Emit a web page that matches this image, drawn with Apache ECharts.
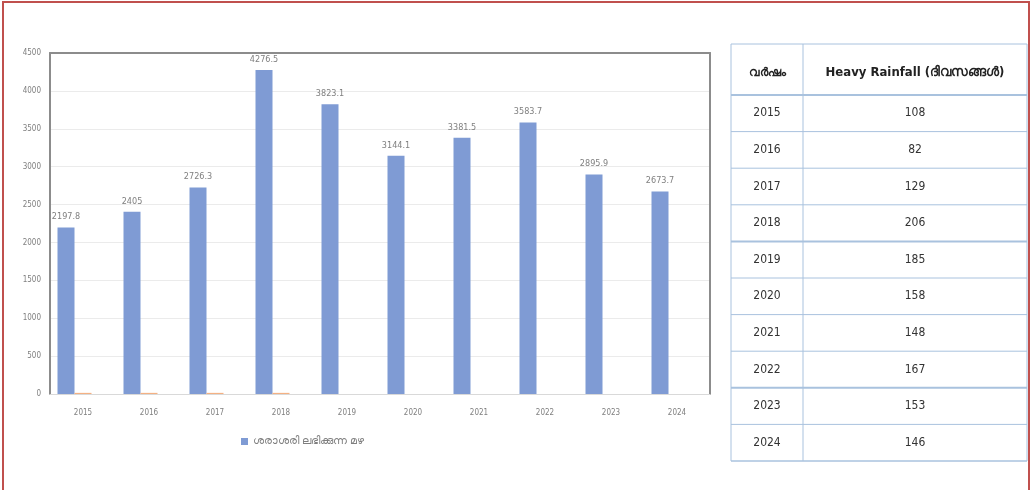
<!DOCTYPE html>
<html>
<head>
<meta charset="utf-8">
<script src="https://cdn.jsdelivr.net/npm/echarts@6/dist/echarts.min.js"></script>
<style>
html,body{margin:0;padding:0;background:#fff;}
#c{width:1032px;height:490px;}
</style>
</head>
<body>
<div id="c"></div>
<script>
// ---- data ----
const categories = ['2015','2016','2017','2018','2019','2020','2021','2022','2023','2024'];
const rainfall = [2197.8, 2405, 2726.3, 4276.5, 3823.1, 3144.1, 3381.5, 3583.7, 2895.9, 2673.7];
const minorSeries = [15, 15, 15, 15, 0, 0, 0, 0, 0, 0];
const yTicks = [0, 500, 1000, 1500, 2000, 2500, 3000, 3500, 4000, 4500];
const legendName = 'ശരാശരി ലഭിക്കുന്ന മഴ';
const tableHeaderYear = 'വർഷം';
const tableHeaderValue = 'Heavy Rainfall (ദിവസങ്ങൾ)';
const tableYears = ['2015','2016','2017','2018','2019','2020','2021','2022','2023','2024'];
const tableDays = [108, 82, 129, 206, 185, 158, 148, 167, 153, 146];

const chart = echarts.init(document.getElementById('c'), null, {renderer:'canvas'});
const narrow = "'Liberation Sans Narrow','DejaVu Sans Condensed',sans-serif";
const lineCol = '#a9c2de';
const T = {left:731, top:44, right:1027, bottom:461, headBottom:95, colSplit:803};

const option = {
  backgroundColor:'#fff',
  animation:false,
  legend:{
    data:[legendName], bottom:38, left:236,
    itemWidth:7, itemHeight:7, icon:'rect', itemGap:4,
    textStyle:{fontSize:11, color:'#7f7f7f', fontFamily:narrow}
  },
  grid:[
    {left:50, top:53, right:322, bottom:96},
    {left:T.left, top:T.headBottom, width:T.right-T.left, height:T.bottom-T.headBottom}
  ],
  xAxis:[
    {type:'category', gridIndex:0, data:categories,
     axisLine:{onZero:false, lineStyle:{color:'#d9d9d9', width:1}}, axisTick:{show:false},
     axisLabel:{fontSize:8, color:'#7f7f7f', margin:15, fontFamily:narrow}},
    {type:'category', gridIndex:0, data:categories, position:'top',
     axisLine:{onZero:false, lineStyle:{color:'#8c8c8c', width:2}}, axisTick:{show:false}, axisLabel:{show:false}},
    {type:'value', gridIndex:1, min:0, max:1, show:false}
  ],
  yAxis:[
    {type:'value', gridIndex:0, min:yTicks[0], max:yTicks[yTicks.length-1], interval:500,
     axisLine:{show:true, lineStyle:{color:'#8c8c8c', width:2}}, axisTick:{show:false},
     splitLine:{lineStyle:{color:'#ebebeb'}},
     axisLabel:{fontSize:8, color:'#7f7f7f', margin:9, fontFamily:narrow, formatter:(v)=>String(v)}},
    {type:'value', gridIndex:0, min:yTicks[0], max:yTicks[yTicks.length-1], interval:500, position:'right',
     axisLine:{show:true, lineStyle:{color:'#8c8c8c', width:2}}, axisTick:{show:false},
     splitLine:{show:false}, axisLabel:{show:false}},
    {type:'category', gridIndex:1, data:tableYears, inverse:true, show:false}
  ],
  series:[
    {name:legendName, type:'bar', xAxisIndex:0, yAxisIndex:0, data:rainfall,
     barWidth:17, barGap:'0%',
     itemStyle:{color:'#7f9bd4'},
     label:{show:true, position:'top', distance:6, fontSize:9, color:'#7f7f7f', fontFamily:narrow}},
    {name:'s2', type:'bar', xAxisIndex:0, yAxisIndex:0, data:minorSeries,
     barWidth:17, itemStyle:{color:'#f4b183'}},
    {name:'s3', type:'bar', xAxisIndex:0, yAxisIndex:0, data:categories.map(()=>null),
     barWidth:17, itemStyle:{color:'#c9c9c9'}},
    {name:'table', type:'custom', xAxisIndex:2, yAxisIndex:2,
     data: tableYears.map((y,i)=>[i, tableDays[i]]),
     encode:{y:0, x:1},
     renderItem:function(params, api){
       const i = params.dataIndex;
       const cs = params.coordSys;
       const yc = api.coord([0, i])[1];
       const bh = api.size([0,1])[1];
       const yb = yc + bh/2;
       const thick = (i===3 || i===7) ? 2 : 1;
       return {type:'group', children:[
         {type:'line', shape:{x1:cs.x, y1:yb, x2:cs.x+cs.width, y2:yb},
          style:{stroke:lineCol, lineWidth:thick}},
         {type:'text', style:{text:tableYears[i], x:(cs.x+T.colSplit)/2, y:yc,
          align:'center', verticalAlign:'middle', fontSize:12, fill:'#333', fontFamily:narrow}},
         {type:'text', style:{text:String(tableDays[i]), x:(T.colSplit+cs.x+cs.width)/2, y:yc,
          align:'center', verticalAlign:'middle', fontSize:12, fill:'#333', fontFamily:narrow}}
       ]};
     }}
  ],
  graphic:[
    {type:'rect', shape:{x:3, y:2, width:1026, height:500}, style:{fill:'none', stroke:'#c0504d', lineWidth:2}, silent:true},
    {type:'rect', shape:{x:T.left, y:T.top, width:T.right-T.left, height:T.bottom-T.top}, style:{fill:'none', stroke:lineCol, lineWidth:1}},
    {type:'line', shape:{x1:T.colSplit, y1:T.top, x2:T.colSplit, y2:T.bottom}, style:{stroke:lineCol, lineWidth:1}},
    {type:'line', shape:{x1:T.left, y1:T.headBottom, x2:T.right, y2:T.headBottom}, style:{stroke:lineCol, lineWidth:2}},
    {type:'text', style:{text:tableHeaderYear, x:(T.left+T.colSplit)/2, y:73, align:'center', verticalAlign:'middle', fontSize:12, fontWeight:'bold', fill:'#222', fontFamily:"'Noto Sans',sans-serif"}},
    {type:'text', style:{text:tableHeaderValue, x:(T.colSplit+T.right)/2, y:73, align:'center', verticalAlign:'middle', fontSize:13, fontWeight:'bold', fill:'#222', fontFamily:narrow}}
  ]
};
chart.setOption(option);
</script>
</body>
</html>
